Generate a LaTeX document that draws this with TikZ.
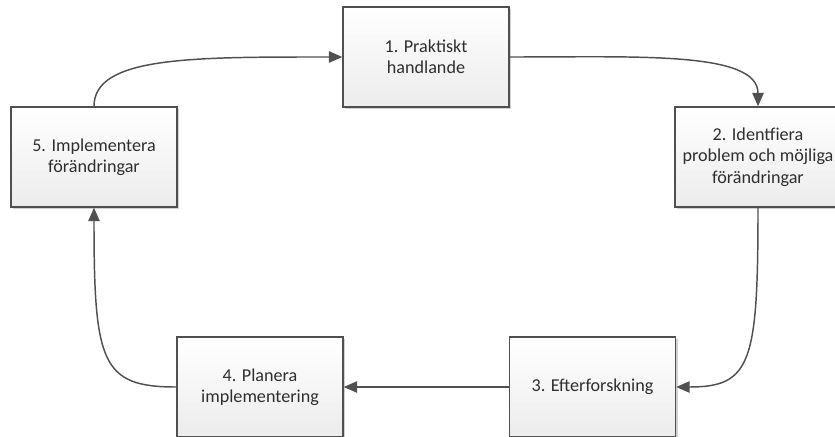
\documentclass[tikz,border=0pt]{standalone}
\usepackage{fontspec}
\setmainfont{Carlito}
\usepackage{tikz}
\usetikzlibrary{arrows.meta,shadows}
\definecolor{ink}{HTML}{505050}
\definecolor{txt}{HTML}{2E2E2E}
\definecolor{boxlow}{HTML}{ECECEC}
\tikzset{
  box/.style={draw=ink,line width=1.1pt,top color=white,bottom color=boxlow,
    minimum width=124.5pt,minimum height=75pt,align=center,text=txt,
    font=\fontsize{13.6}{16}\selectfont,inner sep=2pt,
    general shadow={fill=black!18,shadow xshift=1.6pt,shadow yshift=-1.6pt}},
  arr/.style={-{Triangle[length=10pt,width=8.5pt]},line width=1.1pt,draw=ink},
}
\begin{document}
\begin{tikzpicture}[x=0.75pt,y=-0.75pt]
  \useasboundingbox (0,0) rectangle (835,436);
  \clip (0,0) rectangle (835,436);
  \node[box] (prak) at (426,57) {1. Praktiskt\\handlande};
  \node[box] (ident) at (758,157) {2. Identfiera\\problem och möjliga\\förändringar};
  \node[box] (efter) at (592.5,387) {3. Efterforskning};
  \node[box] (plan) at (260,387) {4. Planera\\implementering};
  \node[box] (impl) at (94,157) {5. Implementera\\förändringar};
  \draw[arr] (impl.north) .. controls +(0,-50) and +(-150,0) .. (prak.west);
  \draw[arr] (prak.east) .. controls +(130,0) and +(0,-55) .. (ident.north);
  \draw[arr] (ident.south) .. controls +(0,155) and +(75,0) .. (efter.east);
  \draw[arr] (efter) -- (plan);
  \draw[arr] (plan.west) .. controls +(-75,0) and +(0,155) .. (impl.south);
\end{tikzpicture}
\end{document}
